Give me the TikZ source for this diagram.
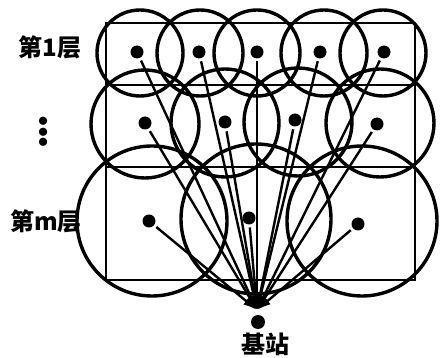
\documentclass[tikz,border=0pt]{standalone}
\usepackage{fontspec}
\newfontfamily\cjk{Noto Sans CJK SC}
\newfontfamily\libsans{Liberation Sans}
\usetikzlibrary{arrows.meta}
\begin{document}
\begin{tikzpicture}[x=1pt,y=-1pt,
  frame/.style={line width=2.4pt},
  cell/.style={line width=3.4pt},
  dotnode/.style={circle,fill=black,inner sep=0pt,minimum size=13pt,outer sep=3pt},
  link/.style={line width=2.4pt,-{Latex[length=14pt,width=9pt]}},
  lbl/.style={font=\cjk\bfseries\fontsize{24}{24}\selectfont,inner sep=0pt}]
\useasboundingbox (0,0) rectangle (440,358);
% grid
\draw[frame] (106,23) rectangle (415,280);
\draw[frame] (106,85) -- (415,85);
\draw[frame] (106,167) -- (415,167);
% coverage circles, layer 1
\foreach \cx in {140,200,257,324,383} \draw[cell] (\cx,53) circle[radius=43];
% layer 2
\foreach \cx/\cy in {145/124,225/123,298/122,380/123} \draw[cell] (\cx,\cy) circle[radius=54];
% layer m
\foreach \cx/\cy in {152/221,256/219,362/221} \draw[cell] (\cx,\cy) circle[radius=75];
% nodes
\node[dotnode] (a1) at (137,52) {};
\node[dotnode] (a2) at (199,52) {};
\node[dotnode] (a3) at (257,52) {};
\node[dotnode] (a4) at (320,52) {};
\node[dotnode] (a5) at (384,52) {};
\node[dotnode] (b1) at (145,123) {};
\node[dotnode] (b2) at (225,122) {};
\node[dotnode] (b3) at (295,120) {};
\node[dotnode] (b4) at (377,124) {};
\node[dotnode] (c1) at (149,221) {};
\node[dotnode] (c2) at (249,218) {};
\node[dotnode] (c3) at (358,224) {};
\node[dotnode,minimum size=14pt] (bs) at (258,322) {};
\coordinate (hub) at (257,310);
\foreach \n in {a1,a2,a3,a4,a5,b1,b2,b3,b4,c1,c2,c3} \draw[link] (\n) -- (hub);
% labels
\node[lbl] (l1) at (50,47) {第1层};
\node[inner sep=0pt,rotate=90,font=\libsans\fontsize{30}{30}\selectfont] (vd) at (46,132) {•••};
\node[lbl] (lm) at (46,221) {第m层};
\node[lbl] (bsl) at (265,344) {基站};
\end{tikzpicture}
\end{document}
